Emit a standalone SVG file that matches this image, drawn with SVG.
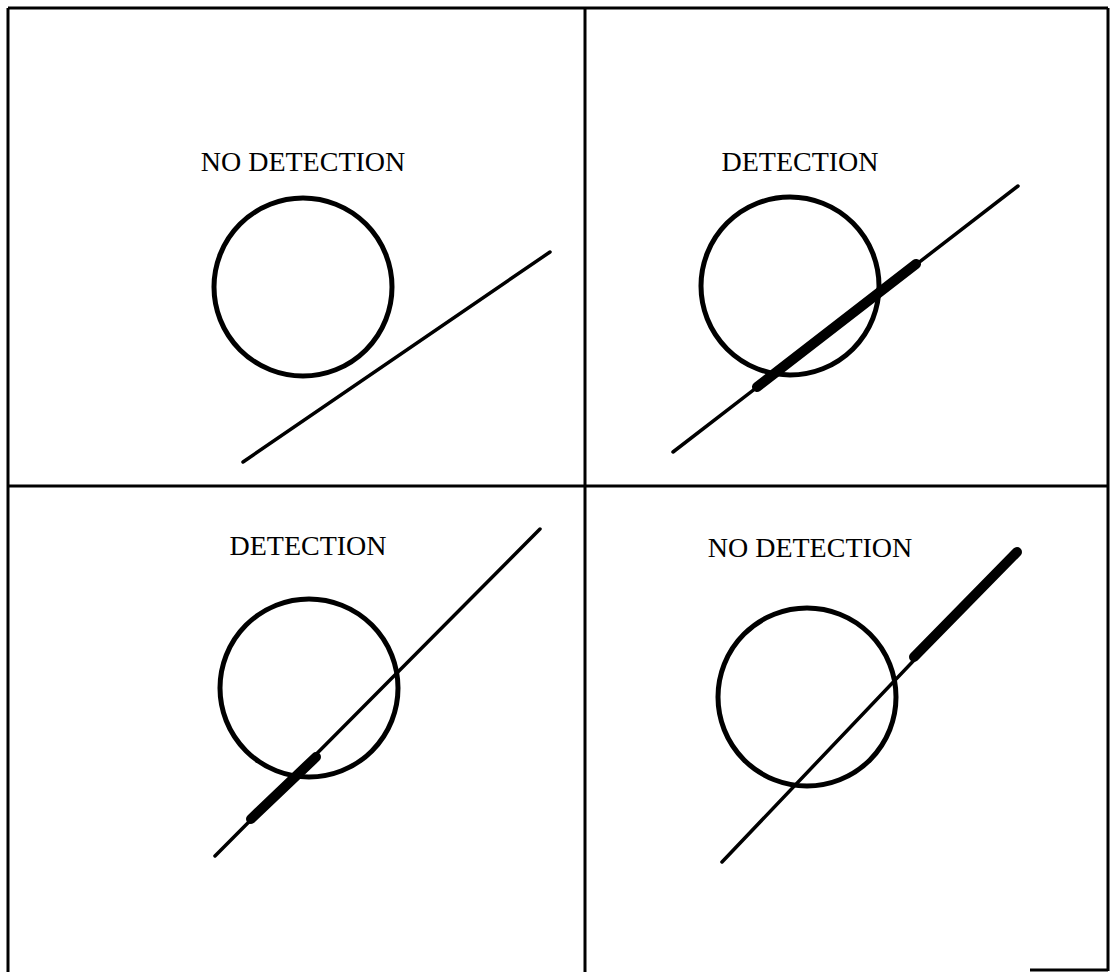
<svg xmlns="http://www.w3.org/2000/svg" width="1111" height="972" viewBox="0 0 1111 972">
<style>
.frame{stroke:#000;stroke-width:3;fill:none}
.lbl{font-family:"Liberation Serif","Times New Roman",serif;font-size:28px;fill:#000;text-anchor:middle}
.ring{fill:none;stroke:#000;stroke-width:5}
.path{stroke:#000;stroke-width:3.5;stroke-linecap:round;fill:none}
.seg{stroke:#000;stroke-width:10;stroke-linecap:round;fill:none}
</style>
<rect width="1111" height="972" fill="#fff"/>
<g id="frame">
<line class="frame" x1="8" y1="8" x2="1108" y2="8"/>
<line class="frame" x1="8" y1="8" x2="8" y2="972"/>
<line class="frame" x1="1108" y1="8" x2="1108" y2="971"/>
<line class="frame" x1="1030" y1="970" x2="1108" y2="970"/>
<line class="frame" x1="585" y1="8" x2="585" y2="972"/>
<line class="frame" x1="8" y1="486" x2="1108" y2="486"/>
</g>
<g id="panel-top-left">
<text class="lbl" x="303" y="171">NO DETECTION</text>
<circle class="ring" cx="303" cy="287" r="89"/>
</g>
<g id="panel-top-right">
<text class="lbl" x="800" y="171">DETECTION</text>
<circle class="ring" cx="790" cy="286" r="89"/>
</g>
<g id="panel-bottom-left">
<text class="lbl" x="308" y="555">DETECTION</text>
<circle class="ring" cx="309" cy="688" r="89"/>
</g>
<g id="panel-bottom-right">
<text class="lbl" x="810" y="557">NO DETECTION</text>
<circle class="ring" cx="807" cy="697" r="89"/>
</g>
<g id="connectors">
<line class="path" x1="243" y1="462" x2="550" y2="252"/>
<line class="path" x1="673" y1="452" x2="1018" y2="186"/>
<line class="seg" x1="757" y1="387" x2="916" y2="264"/>
<line class="path" x1="215" y1="856" x2="540" y2="529"/>
<line class="seg" x1="251" y1="819" x2="316" y2="757"/>
<line class="path" x1="722" y1="862" x2="1018" y2="551"/>
<line class="seg" x1="914" y1="657" x2="1017" y2="552"/>
</g>
</svg>
